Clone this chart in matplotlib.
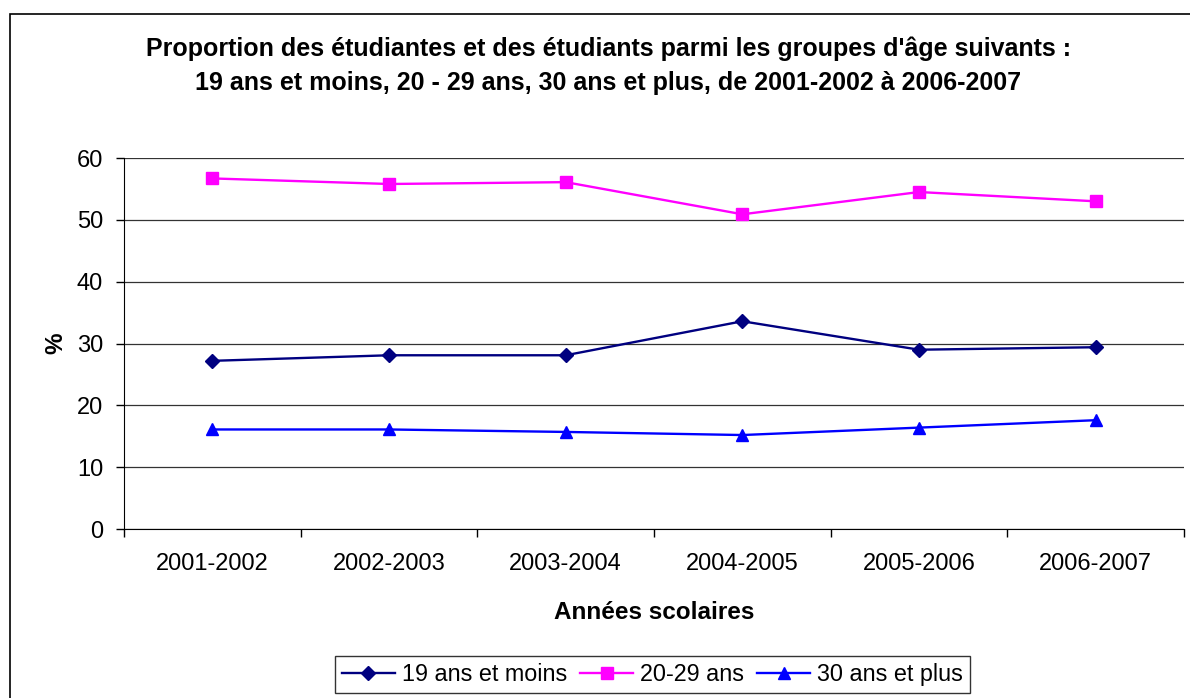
#Libraries
import matplotlib
matplotlib.use('Agg')
import matplotlib.pyplot as plt
from matplotlib.patches import Rectangle

plt.rcParams['font.family'] = ['Liberation Sans', 'DejaVu Sans']

#Data
annees = ['2001-2002', '2002-2003', '2003-2004', '2004-2005', '2005-2006', '2006-2007']
moins_19 = [27.2, 28.1, 28.1, 33.6, 29.0, 29.4]
ans_20_29 = [56.7, 55.8, 56.1, 50.9, 54.5, 53.0]
plus_30 = [16.1, 16.1, 15.7, 15.2, 16.4, 17.6]

#Figure
fig = plt.figure(figsize=(11.9, 6.98), dpi=100)
ax = fig.add_axes([0.1042, 0.2421, 0.8908, 0.5315])

x = list(range(len(annees)))
ax.plot(x, moins_19, color='#000080', marker='D', markersize=7, lw=1.7, label='19 ans et moins')
ax.plot(x, ans_20_29, color='#FF00FF', marker='s', markersize=8, lw=1.7, label='20-29 ans')
ax.plot(x, plus_30, color='#0000FF', marker='^', markersize=9, lw=1.7, label='30 ans et plus')

#Axes
ax.set_xlim(-0.5, 5.5)
ax.set_ylim(0, 60)
ax.set_yticks(range(0, 61, 10))
ax.set_xticks(x)
ax.set_xticklabels(annees)
ax.set_xticks([i - 0.5 for i in range(len(annees) + 1)], minor=True)
ax.tick_params(axis='x', which='major', length=0, pad=17, labelsize=17)
ax.tick_params(axis='x', which='minor', length=6, width=1, direction='out')
ax.tick_params(axis='y', length=6, width=1, direction='out', labelsize=17, pad=9)
ax.yaxis.grid(True, color='#333333', lw=0.9)
ax.set_axisbelow(True)
for s in ['top', 'right']:
    ax.spines[s].set_visible(False)
ax.spines['left'].set_color('black')
ax.spines['bottom'].set_color('black')

ax.set_ylabel('%', fontsize=17.5, fontweight='bold', labelpad=7)
ax.set_xlabel('Années scolaires', fontsize=17.5, fontweight='bold', labelpad=19)

fig.text(0.511, 0.906, "Proportion des étudiantes et des étudiants parmi les groupes d'âge suivants :\n"
         "19 ans et moins, 20 - 29 ans, 30 ans et plus, de 2001-2002 à 2006-2007",
         ha='center', va='center', fontsize=18, fontweight='bold', linespacing=1.5)

leg = fig.legend(loc='center', bbox_to_anchor=(0.5483, 0.033), ncol=3, fontsize=16.8,
                 frameon=True, fancybox=False, edgecolor='black', handlelength=2.27,
                 columnspacing=0.56, handletextpad=0.3, borderpad=0.3, borderaxespad=0)
leg.get_frame().set_linewidth(1)

#Outer border
fig.patches.append(Rectangle((10 / 1190, -0.01), 1.1, 1 - 14 / 698 + 0.01, transform=fig.transFigure,
                             fill=False, edgecolor='black', lw=1.2))

fig.savefig('out.png', dpi=100)
